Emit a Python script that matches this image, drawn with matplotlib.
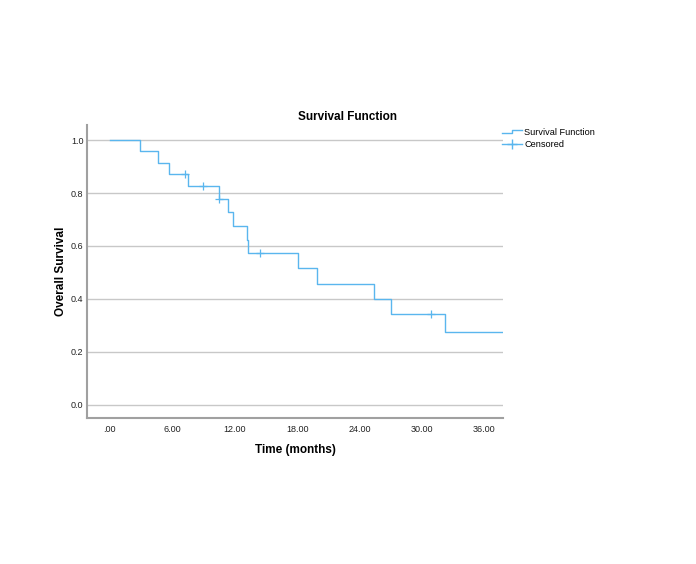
import matplotlib
matplotlib.use("Agg")
import matplotlib.pyplot as plt
from matplotlib.lines import Line2D
from matplotlib.legend_handler import HandlerBase

plt.rcParams['font.family'] = ['Liberation Sans', 'DejaVu Sans']

# Data (Kaplan-Meier estimate)
event_times = [0, 2.9, 4.65, 5.65, 7.55, 10.45, 11.4, 11.8, 13.15, 13.3, 18.1, 19.95, 25.4, 27.0, 32.2]
survival = [1.0, 0.957, 0.913, 0.870, 0.826, 0.777, 0.727, 0.675, 0.623, 0.572, 0.515, 0.458, 0.401, 0.344, 0.276]
follow_up_end = 37.8
censor_times = [7.2, 8.95, 10.45, 14.4, 30.9]
censor_surv = [0.870, 0.826, 0.777, 0.572, 0.344]
xtick_vals = [0, 6, 12, 18, 24, 30, 36]
xtick_labels = ['.00', '6.00', '12.00', '18.00', '24.00', '30.00', '36.00']
ytick_vals = [0.0, 0.2, 0.4, 0.6, 0.8, 1.0]
ytick_labels = ['0.0', '0.2', '0.4', '0.6', '0.8', '1.0']

color = '#5ab6ee'

fig = plt.figure(figsize=(6.96, 5.64), dpi=100)
ax = fig.add_axes([87/696, 1-418/564, (503-87)/696, (418-125)/564])

xs = event_times + [follow_up_end]
ys = survival + [survival[-1]]
ax.step(xs, ys, where='post', color=color, lw=1.0)
ax.plot(censor_times, censor_surv, linestyle='none', marker='+', color=color,
        markersize=6, markeredgewidth=0.9)

ax.set_xlim(-2.2, follow_up_end)
ax.set_ylim(-0.05, 1.057)
ax.set_xticks(xtick_vals)
ax.set_xticklabels(xtick_labels, fontsize=6.5)
ax.set_yticks(ytick_vals)
ax.set_yticklabels(ytick_labels, fontsize=6.5)
ax.tick_params(length=0, colors='#222222')
ax.tick_params(axis='x', pad=4.8)
ax.tick_params(axis='y', pad=2.5)
ax.grid(axis='y', color='#c8c8c8', lw=1.0)
ax.set_axisbelow(True)
for s in ['top', 'right']:
    ax.spines[s].set_visible(False)
for s in ['left', 'bottom']:
    ax.spines[s].set_color('#a0a0a0')
    ax.spines[s].set_linewidth(1.5)

fig.text(348/696, 1-117/564, 'Survival Function', fontsize=8.5, fontweight='bold',
         ha='center', va='center')
ax.set_xlabel('Time (months)', fontsize=8.5, fontweight='bold', labelpad=7.5)
ax.set_ylabel('Overall Survival', fontsize=8.5, fontweight='bold', labelpad=3)


class StepHandler(HandlerBase):
    def create_artists(self, legend, orig_handle, xdescent, ydescent, width, height, fontsize, trans):
        x0 = -xdescent
        w = width
        h = height
        y0 = -ydescent
        line = Line2D([x0, x0 + 0.5*w, x0 + 0.5*w, x0 + w],
                      [y0 + 0.25*h, y0 + 0.25*h, y0 + 0.75*h, y0 + 0.75*h],
                      color=color, lw=1.0, transform=trans)
        return [line]


surv_handle = Line2D([], [], color=color)
cens_handle = Line2D([], [], color=color, marker='+', markersize=7, lw=1.0)
fig.legend([surv_handle, cens_handle], ['Survival Function', 'Censored'],
           handler_map={surv_handle: StepHandler()},
           loc='upper left', bbox_to_anchor=(502/696, 1-128/564), frameon=False,
           fontsize=6.6, handlelength=2.2, handletextpad=0.25, labelspacing=0.3,
           borderaxespad=0, borderpad=0)

fig.savefig('out.png', dpi=100, facecolor='white')
